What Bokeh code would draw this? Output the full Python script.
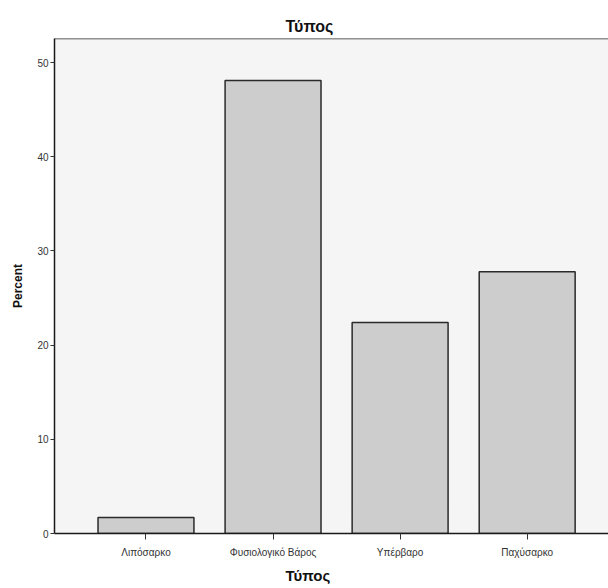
from bokeh.plotting import figure
from bokeh.models import Range1d, FixedTicker, Span, Title
from bokeh.embed import file_html
from bokeh.resources import INLINE

categories = ["Λιπόσαρκο", "Φυσιολογικό Βάρος", "Υπέρβαρο", "Παχύσαρκο"]
percent = [1.7, 48.1, 22.4, 27.8]
y_ticks = [0, 10, 20, 30, 40, 50]

xs = list(range(len(categories)))

p = figure(width=608, height=588, output_backend="svg", toolbar_location=None,
           x_range=Range1d(-0.72, 3.64), y_range=Range1d(0, 52.55),
           min_border_left=54, min_border_right=0, min_border_top=38,
           min_border_bottom=55)

p.background_fill_color = "#f5f5f5"
p.border_fill_color = "white"
p.outline_line_color = None

p.vbar(x=xs, top=percent, width=0.755, bottom=0,
       fill_color="#cdcdcd", line_color="#2a2a2a", line_width=1.5)

p.add_layout(Span(location=52.55, dimension="width", line_color="#2a2a2a", line_width=1.5))

p.xgrid.visible = False
p.ygrid.visible = False

p.title.text = "Τύπος"
p.title.align = "left"
p.title.offset = 231
p.title.text_font = "Liberation Sans"
p.title.text_font_size = "16px"
p.title.text_font_style = "bold"
p.title.text_color = "#111111"
p.title.standoff = 7

p.xaxis.ticker = FixedTicker(ticks=xs)
p.xaxis.major_label_overrides = {i: c for i, c in zip(xs, categories)}
p.yaxis.ticker = FixedTicker(ticks=y_ticks)

for ax in (p.xaxis, p.yaxis):
    ax.axis_line_color = "#1a1a1a"
    ax.axis_line_width = 1.5
    ax.major_tick_line_color = "#333333"
    ax.major_tick_out = 4
    ax.major_tick_in = 0
    ax.minor_tick_line_color = None
    ax.major_label_text_font = "Liberation Sans"
    ax.major_label_text_font_size = "10px"
    ax.major_label_text_color = "#333333"

p.xaxis.major_tick_out = 6
p.xaxis.major_label_standoff = 7

p.yaxis.axis_label = "Percent"
p.yaxis.axis_label_text_font = "Liberation Sans"
p.yaxis.axis_label_text_font_size = "12px"
p.yaxis.axis_label_text_font_style = "bold"
p.yaxis.axis_label_text_color = "#111111"
p.yaxis.axis_label_standoff = 9
p.yaxis.major_label_standoff = 2

xt = Title(text="Τύπος", align="left", offset=231, text_font="Liberation Sans",
           text_font_size="15px", text_font_style="bold", text_color="#111111",
           standoff=8)
p.add_layout(xt, "below")

open("out.html", "w").write(file_html(p, INLINE))
